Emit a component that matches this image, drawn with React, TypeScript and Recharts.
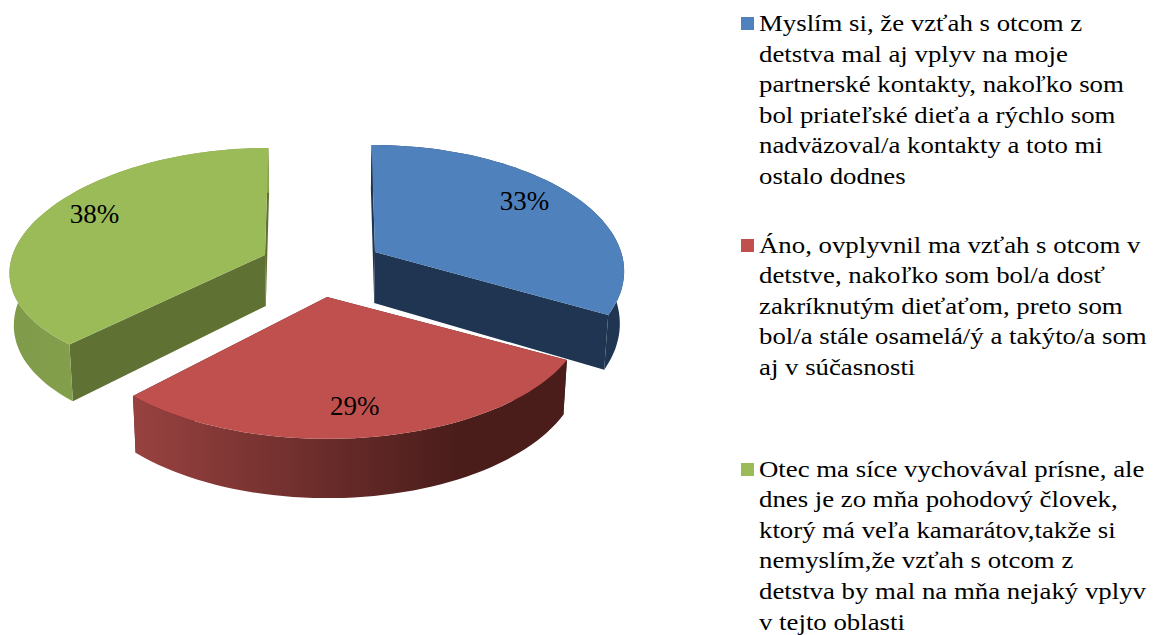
import { PieChart, Pie, Cell, Legend } from "recharts";

const categories = [
  "Myslím si, že vzťah s otcom z\ndetstva mal aj vplyv na moje\npartnerské kontakty, nakoľko som\nbol priateľské dieťa a rýchlo som\nnadväzoval/a kontakty a toto mi\nostalo dodnes",
  "Áno, ovplyvnil ma vzťah s otcom v\ndetstve, nakoľko som bol/a dosť\nzakríknutým dieťaťom, preto som\nbol/a stále osamelá/ý a takýto/a som\naj v súčasnosti",
  "Otec ma síce vychovával prísne, ale\ndnes je zo mňa pohodový človek,\nktorý má veľa kamarátov,takže si\nnemyslím,že vzťah s otcom z\ndetstva by mal na mňa nejaký vplyv\nv tejto oblasti",
];
const values = [33, 29, 38];
const colors = ["#4F81BD", "#C0504D", "#9BBB59"];
const wallColors = ["#1F3552", "#4A1D1B", "#5F7233"];
const rimStops = [
  ["#1F3552", "#1F3552"],
  ["#984240", "#4A1D1B"],
  ["#7F9A49", "#8AA650"],
];
// per slice view tweaks: pull-out in px, width scale, tilt and perspective
const explode = [
  [55, -13],
  [7, 32],
  [-55, -10],
];
const widthScale = [0.965, 1.0, 0.99];
const squash = [122, 122, 115.6];
const perspY = [0.14, 0.14, 0.08];
const labelNudge = [
  [0, -7],
  [-6, 8],
  [-2, -10],
];
const legendGaps = [0, 38, 71];

const tableData = categories.map((name, i) => ({ name, value: values[i] }));

const CX = 320;
const CY = 265;
const PERSP = 0.14;
const DEPTH = 51;
const FONT = "'Liberation Serif', serif";

// clockwise degrees from 12 o'clock -> screen point on the tilted disk
function project(deg: number, frac: number, r: number, index: number) {
  const t = (deg * Math.PI) / 180;
  const u = Math.sin(t) * frac;
  const v = -Math.cos(t) * frac;
  const s = 1 / (1 - PERSP * v);
  const sy = 1 / (1 - perspY[index] * v);
  const [dx, dy] = explode[index];
  return {
    x: CX + dx + u * r * widthScale[index] * s + dx * (s - 1) * 0.5,
    y: CY + dy + v * squash[index] * sy,
    s,
  };
}

const toPath = (pts: { x: number; y: number }[]) =>
  "M" + pts.map((p) => `${p.x.toFixed(1)},${p.y.toFixed(1)}`).join("L") + "Z";

function Slice3D(props: any) {
  const { startAngle, endAngle, outerRadius, index, fill } = props;
  const from = 90 - startAngle;
  const to = 90 - endAngle;
  const arc = [];
  for (let d = from; d < to; d += 2) arc.push(project(d, 1, outerRadius, index));
  arc.push(project(to, 1, outerRadius, index));
  const apex = project(0, 0, outerRadius, index);
  // the bottom face sits lower and leans a little towards the middle
  const down = (p: { x: number; y: number; s: number }) => ({
    x: p.x - (p.x - CX) * 0.014,
    y: p.y + DEPTH * p.s,
    s: p.s,
  });

  const first = arc[0];
  const last = arc[arc.length - 1];
  const xs = arc.map((p) => p.x);
  const gradId = `rim-${index}`;
  return (
    <g>
      <defs>
        <linearGradient
          id={gradId}
          gradientUnits="userSpaceOnUse"
          x1={Math.min(...xs)}
          x2={Math.max(...xs) - 110}
          y1={0}
          y2={0}
        >
          <stop offset="0" stopColor={rimStops[index][0]} />
          <stop offset="1" stopColor={rimStops[index][1]} />
        </linearGradient>
      </defs>
      <path d={toPath([apex, first, down(first), down(apex)])} fill={wallColors[index]} />
      <path d={toPath([apex, last, down(last), down(apex)])} fill={wallColors[index]} />
      <path d={toPath([...arc, ...arc.map(down).reverse()])} fill={`url(#${gradId})`} />
      <path d={toPath([apex, ...arc])} fill={fill} />
    </g>
  );
}

function renderLabel(props: any) {
  const { midAngle, outerRadius, index, percent } = props;
  const p = project(90 - midAngle, 0.75, outerRadius, index);
  return (
    <text
      x={p.x + labelNudge[index][0]}
      y={p.y + labelNudge[index][1]}
      textAnchor="middle"
      dominantBaseline="central"
      fontFamily={FONT}
      fontSize={27}
      fill="#000"
    >
      {`${Math.round(percent * 100)}%`}
    </text>
  );
}

function LegendList({ payload }: any) {
  return (
    <div style={{ fontFamily: FONT, fontSize: 23, lineHeight: "30.6px", color: "#000" }}>
      {(payload || []).map((entry: any, i: number) => (
        <div key={i} style={{ position: "relative", paddingLeft: 18, marginTop: legendGaps[i], whiteSpace: "pre" }}>
          <span
            style={{
              position: "absolute",
              left: 0,
              top: 8,
              width: 13,
              height: 13,
              background: entry.color,
            }}
          />
          <span style={{ display: "block", transform: "scaleX(1.165)", transformOrigin: "left" }}>{entry.value}</span>
        </div>
      ))}
    </div>
  );
}

export default function App() {
  return (
    <div style={{ position: "absolute", left: 0, top: 0, width: 1162, height: 635, background: "#fff", overflow: "hidden" }}>
      <PieChart width={1162} height={635} margin={{ top: 0, right: 0, bottom: 0, left: 0 }}>
        <Pie
          data={tableData}
          dataKey="value"
          nameKey="name"
          cx={CX}
          cy={CY}
          outerRadius={255}
          startAngle={90}
          endAngle={-270}
          stroke="none"
          label={renderLabel}
          labelLine={false}
          shape={Slice3D}
          isAnimationActive={false}
        >
          {tableData.map((_, i) => (
            <Cell key={i} fill={colors[i]} />
          ))}
        </Pie>
        <Legend
          layout="vertical"
          align="right"
          verticalAlign="middle"
          itemSorter={null}
          content={<LegendList />}
          wrapperStyle={{ position: "absolute", left: 741, top: 9, right: "auto", bottom: "auto", width: 421 }}
        />
      </PieChart>
    </div>
  );
}
